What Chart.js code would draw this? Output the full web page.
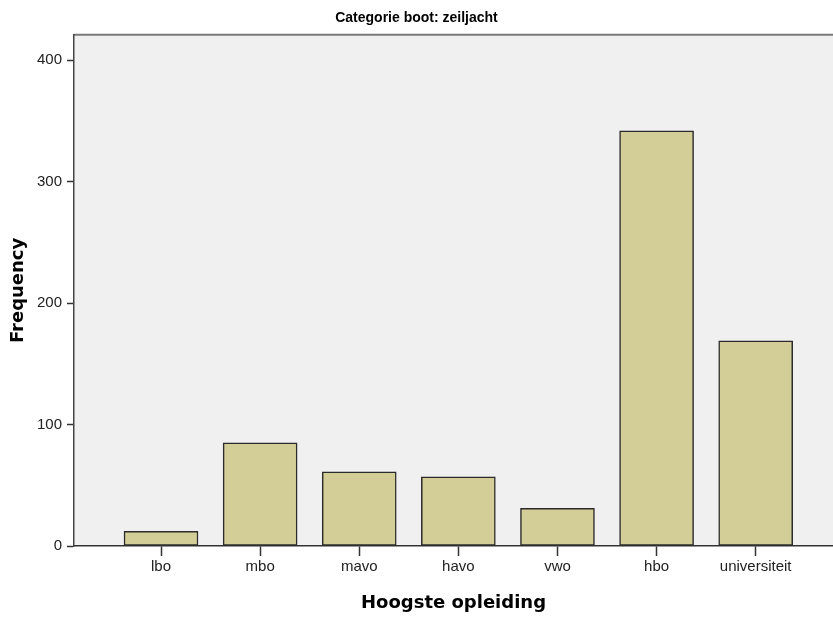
<!DOCTYPE html>
<html>
<head>
<meta charset="utf-8">
<script src="https://cdn.jsdelivr.net/npm/chart.js@4/dist/chart.umd.min.js"></script>
<style>
  body { margin: 0; background: #ffffff; }
  canvas { display: block; }
</style>
</head>
<body>
<canvas id="myChart" width="833" height="619"></canvas>
<script>
'use strict';

//data

//education levels on the x axis
const categories = ['lbo', 'mbo', 'mavo', 'havo', 'vwo', 'hbo', 'universiteit'];
//frequency per level
const frequencies = [12, 85, 61, 57, 31, 342, 169];
//labels on the y axis
const yTicks = [0, 100, 200, 300, 400];

//helpers

//gray plot area with a border on top, like the spss output
const plotBackground = {
  id: 'plotBackground',
  beforeDraw(chart) {
    const {ctx, chartArea} = chart;
    ctx.save();
    ctx.fillStyle = '#f0f0f0';
    ctx.fillRect(chartArea.left, chartArea.top, chartArea.right - chartArea.left, chartArea.bottom - chartArea.top);
    ctx.strokeStyle = '#7a7a7a';
    ctx.lineWidth = 2;
    ctx.beginPath();
    ctx.moveTo(chartArea.left, chartArea.top);
    ctx.lineTo(chartArea.right, chartArea.top);
    ctx.stroke();
    ctx.restore();
  }
};

//main

const points = [];
for(let i = 0; i < categories.length; i++) {
  points.push({x: i, y: frequencies[i]});
}

const data = {
  datasets: [{
    label: 'Frequency',
    data: points,
    backgroundColor: '#d3ce97',
    borderColor: '#2b2b2b',
    borderWidth: 1.5,
    borderSkipped: false,
    barThickness: 74
  }]
};

const tickFont = {family: 'Liberation Sans', size: 15};
const titleFont = {family: 'DejaVu Sans', size: 18, weight: 'bold'};

const config = {
  type: 'bar',
  data: data,
  options: {
    responsive: false,
    animation: false,
    layout: {padding: 0},
    plugins: {
      legend: {display: false},
      tooltip: {enabled: false},
      title: {
        display: true,
        text: 'Categorie boot: zeiljacht',
        color: '#000000',
        font: {family: 'Liberation Sans', size: 14, weight: 'bold'},
        padding: {top: 10, bottom: 8}
      }
    },
    scales: {
      x: {
        type: 'linear',
        offset: false,
        min: -0.878,
        max: 6.78,
        afterFit(scale) {
          scale.height = 73;
        },
        afterBuildTicks(scale) {
          scale.ticks = categories.map((c, i) => ({value: i}));
        },
        ticks: {
          color: '#222222',
          font: tickFont,
          padding: 2,
          maxRotation: 0,
          autoSkip: false,
          callback: (value) => categories[value]
        },
        grid: {
          offset: false,
          drawOnChartArea: false,
          drawTicks: true,
          tickLength: 10,
          tickWidth: 1.5,
          color: '#333333'
        },
        border: {display: true, color: '#333333', width: 1.5},
        title: {
          display: true,
          text: 'Hoogste opleiding',
          color: '#000000',
          font: titleFont,
          padding: {top: 0, bottom: 5}
        }
      },
      y: {
        min: 0,
        max: 421,
        afterFit(scale) {
          scale.width = 74;
        },
        afterBuildTicks(scale) {
          scale.ticks = yTicks.map((v) => ({value: v}));
        },
        ticks: {
          color: '#222222',
          font: tickFont,
          padding: 5
        },
        grid: {
          drawOnChartArea: false,
          drawTicks: true,
          tickLength: 7,
          tickWidth: 1.5,
          color: '#333333'
        },
        border: {display: true, color: '#444444', width: 1.5},
        title: {
          display: true,
          text: 'Frequency',
          color: '#000000',
          font: titleFont,
          padding: {top: 8, bottom: 0}
        }
      }
    }
  },
  plugins: [plotBackground]
};

let myChart = new Chart(
  document.getElementById('myChart'),
  config
);
</script>
</body>
</html>
